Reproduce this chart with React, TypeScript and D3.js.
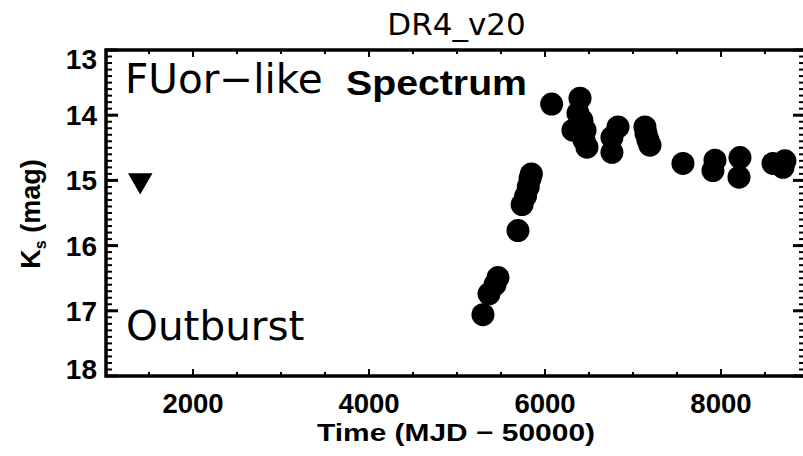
import React from "react";
import * as d3 from "d3";

const detectionDays = [
  5295, 5364, 5432, 5466, 5693,
  5740, 5780, 5810, 5830, 5845,
  6076,
  6398, 6375, 6318, 6455, 6420, 6477, 6443,
  6830, 6761, 6761,
  7136, 7170, 7148, 7193,
  7568,
  7932, 7909,
  8216, 8205,
  8591, 8705, 8727,
];
const detectionMags = [
  17.06, 16.74, 16.6, 16.49, 15.77,
  15.37, 15.24, 15.1, 14.97, 14.9,
  13.83,
  13.74, 13.97, 14.23, 14.23, 14.08, 14.49, 14.38,
  14.18, 14.34, 14.57,
  14.18, 14.38, 14.28, 14.46,
  14.74,
  14.69, 14.85,
  14.65, 14.95,
  14.74, 14.8, 14.7,
];
const limitDays = [1400];
const limitMags = [15.0];

const xTickValues = [2000, 4000, 6000, 8000];
const yTickValues = [13, 14, 15, 16, 17, 18];
const titleText = "DR4_v20";
const xLabel = "Time (MJD \u2212 50000)";
const annotTop = "FUor\u2212like";
const annotTopBold = "Spectrum";
const annotBottom = "Outburst";

export default function App() {
  const left = 106, right = 805, top = 50, bottom = 376;
  const x = d3.scaleLinear().domain([1011, 8955]).range([left, right]);
  const y = d3.scaleLinear().domain([13, 18]).range([top, bottom]);

  const xMinor = d3.range(1500, 9000, 500).filter((v) => x(v) > left && x(v) < right);
  const yMinor = d3.range(130, 181, 1).map((v) => v / 10);

  const tri = d3.symbol().type(d3.symbolTriangle).size(260)();

  const lab = { fontFamily: "'Liberation Sans', Arial, sans-serif", fontWeight: 700 };
  const reg = { fontFamily: "'DejaVu Sans', sans-serif" };

  return (
    <svg width={803} height={456} style={{ position: "absolute", left: 0, top: 0, background: "#fff" }}>
      <rect x={0} y={0} width={803} height={456} fill="#fff" />
      {/* title */}
      <text x={(left + right) / 2 + 1} y={35} textAnchor="middle" fontSize={31} style={reg}>{titleText}</text>

      {/* minor y ticks */}
      {yMinor.map((v, i) => (
        <g key={"ym" + i} stroke="#000" strokeWidth={2}>
          <line x1={left} x2={left + 6} y1={y(v)} y2={y(v)} />
          <line x1={right} x2={right - 6} y1={y(v)} y2={y(v)} />
        </g>
      ))}
      {yTickValues.map((v) => (
        <g key={"yM" + v} stroke="#000" strokeWidth={3}>
          <line x1={left} x2={left + 12} y1={y(v)} y2={y(v)} />
          <line x1={right} x2={right - 12} y1={y(v)} y2={y(v)} />
        </g>
      ))}
      {xMinor.map((v) => (
        <g key={"xm" + v} stroke="#000" strokeWidth={2}>
          <line x1={x(v)} x2={x(v)} y1={bottom} y2={bottom - (v % 2000 === 0 ? 7 : 4)} />
          <line x1={x(v)} x2={x(v)} y1={top} y2={top + (v % 2000 === 0 ? 7 : 4)} />
        </g>
      ))}

      {/* frame */}
      <rect x={left} y={top} width={right - left} height={bottom - top} fill="none" stroke="#000" strokeWidth={3.5} />

      {/* tick labels */}
      {xTickValues.map((v) => (
        <text key={"xl" + v} x={x(v)} y={413} textAnchor="middle" fontSize={27.5} style={lab}>{v}</text>
      ))}
      {yTickValues.map((v) => (
        <text key={"yl" + v} x={97} y={Math.min(Math.max(y(v), 59), 369) + 10} textAnchor="end" fontSize={28} style={lab}>{v}</text>
      ))}

      {/* axis labels */}
      <text x={456} y={441} textAnchor="middle" fontSize={24.5} textLength={278} lengthAdjust="spacingAndGlyphs" style={lab}>{xLabel}</text>
      <text transform={`translate(40, ${(top + bottom) / 2 + 1}) rotate(-90)`} textAnchor="middle" fontSize={27} style={lab}>
        K<tspan fontSize={16} dy={6}>s</tspan><tspan dy={-6}> (mag)</tspan>
      </text>

      {/* annotations */}
      <text x={125} y={93} fontSize={40.5} style={reg}>{annotTop}</text>
      <text x={346} y={95} fontSize={35} textLength={181} lengthAdjust="spacingAndGlyphs" style={{ fontFamily: "'Liberation Sans', Arial, sans-serif", fontWeight: 700 }}>{annotTopBold}</text>
      <text x={126} y={340} fontSize={40.5} style={reg}>{annotBottom}</text>

      {/* data */}
      {detectionDays.map((d, i) => (
        <circle key={"p" + i} cx={x(d)} cy={y(detectionMags[i])} r={11.5} fill="#000" />
      ))}
      {limitDays.map((d, i) => (
        <path key={"l" + i} d={tri as string} transform={`translate(${x(d)}, ${y(limitMags[i])}) rotate(180)`} fill="#000" />
      ))}
    </svg>
  );
}
